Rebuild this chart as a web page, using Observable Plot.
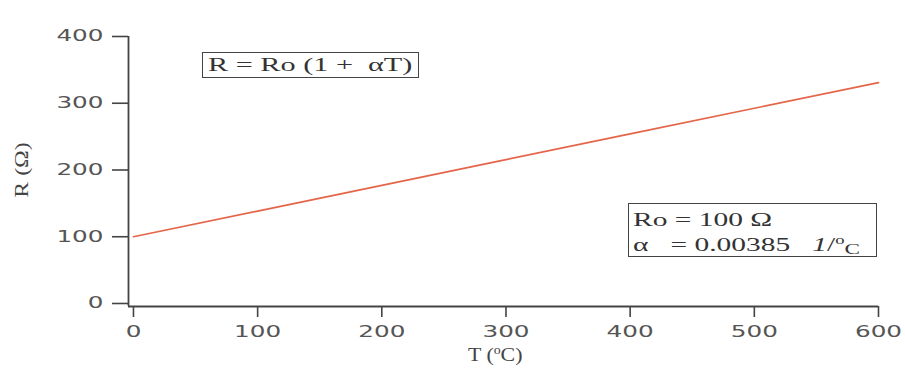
<!DOCTYPE html>
<html>
<head>
<meta charset="utf-8">
<script src="https://cdn.jsdelivr.net/npm/d3@7"></script>
<script src="https://cdn.jsdelivr.net/npm/@observablehq/plot@0.6"></script>
<style>
  html, body { margin: 0; padding: 0; background: #fff; }
  #wrap { position: relative; width: 905px; height: 369px; }
  .box { position: absolute; border: 1.5px solid #444; font-family: "Liberation Serif", "DejaVu Serif", serif; color: #333; background: #fff; box-sizing: border-box; white-space: nowrap; }
  .stretch { display: inline-block; transform-origin: left center; }
  #eq { left: 202px; top: 52px; width: 217px; height: 26px; font-size: 19.5px; line-height: 24px; padding-left: 5px; }
  #eq .stretch { transform: scaleX(1.55); }
  #params { left: 628px; top: 203px; width: 249px; height: 54px; font-size: 19px; line-height: 21px; padding: 5px 0 0 4px; }
  #params .stretch { transform: scaleX(1.55); }
  #xlabel { position: absolute; left: 468px; top: 342px; font-family: "Liberation Serif", serif; font-size: 19px; line-height: 16px; color: #444; white-space: nowrap; }
  #xlabel .stretch { transform: scaleX(1.15); }
  #ylabel { position: absolute; left: 22px; top: 170px; width: 0; height: 0; }
  #ylabel span { position: absolute; left: 0; top: 0; transform: translate(-50%,-50%) rotate(-90deg) scaleX(1.25); font-family: "Liberation Serif", serif; font-size: 19px; color: #444; white-space: nowrap; }
</style>
</head>
<body>
<div id="wrap"></div>
<script>
// Data
const temperatures = [0, 100, 200, 300, 400, 500, 600];
const resistances = [100, 138.5, 177, 215.5, 254, 292.5, 331];
const xTicks = [0, 100, 200, 300, 400, 500, 600];
const yTicks = [0, 100, 200, 300, 400];

const data = temperatures.map((t, i) => ({T: t, R: resistances[i]}));

const axisFont = "'DejaVu Sans', Lato, sans-serif";

const chart = Plot.plot({
  width: 905,
  height: 369,
  marginLeft: 128,
  marginRight: 27,
  marginTop: 36,
  marginBottom: 63,
  style: { background: "#fff", overflow: "visible" },
  x: { domain: [-4, 600] },
  y: { domain: [-4.5, 400] },
  marks: [
    Plot.axisX({
      ticks: xTicks, tickSize: 11, tickPadding: 9, tickFormat: d => String(d),
      stroke: "#444", strokeWidth: 1.6,
      fill: "#555", fontSize: 15, fontFamily: axisFont, label: null
    }),
    Plot.axisY({
      ticks: yTicks, tickSize: 16, tickPadding: 9, tickFormat: d => String(d),
      stroke: "#444", strokeWidth: 1.6,
      fill: "#555", fontSize: 15.5, fontFamily: axisFont, label: null
    }),
    Plot.ruleY([-4.5], { x1: -4, x2: 600, stroke: "#444", strokeWidth: 1.8 }),
    Plot.ruleX([-4], { y1: -4.5, y2: 400, stroke: "#444", strokeWidth: 1.8 }),
    Plot.line(data, { x: "T", y: "R", stroke: "#e5654a", strokeWidth: 1.7 })
  ]
});

// stretch tick labels horizontally to mimic the wide lettering of the reference
chart.querySelectorAll("g[aria-label='x-axis tick label'] text, g[aria-label='y-axis tick label'] text")
  .forEach(t => {
    const n = t.textContent.length;
    t.setAttribute("textLength", String(n * 15.7));
    t.setAttribute("lengthAdjust", "spacingAndGlyphs");
  });

const wrap = document.getElementById("wrap");
wrap.appendChild(chart);

const eq = document.createElement("div");
eq.className = "box"; eq.id = "eq";
eq.innerHTML = "<span class='stretch'>R = Ro (1 +&nbsp; &alpha;T)</span>";
wrap.appendChild(eq);

const params = document.createElement("div");
params.className = "box"; params.id = "params";
params.innerHTML = "<span class='stretch'>Ro = 100 &Omega;</span><br><span class='stretch'>&alpha; &nbsp; = 0.00385 &nbsp; <i>1</i>/<sup style='font-size:12px'>o</sup><span style='font-size:15px;position:relative;top:3px'>C</span></span>";
wrap.appendChild(params);

const xl = document.createElement("div");
xl.id = "xlabel";
xl.innerHTML = "<span class='stretch'>T (<sup style='font-size:12px'>o</sup>C)</span>";
wrap.appendChild(xl);

const yl = document.createElement("div");
yl.id = "ylabel";
yl.innerHTML = "<span>R (&Omega;)</span>";
wrap.appendChild(yl);
</script>
</body>
</html>
